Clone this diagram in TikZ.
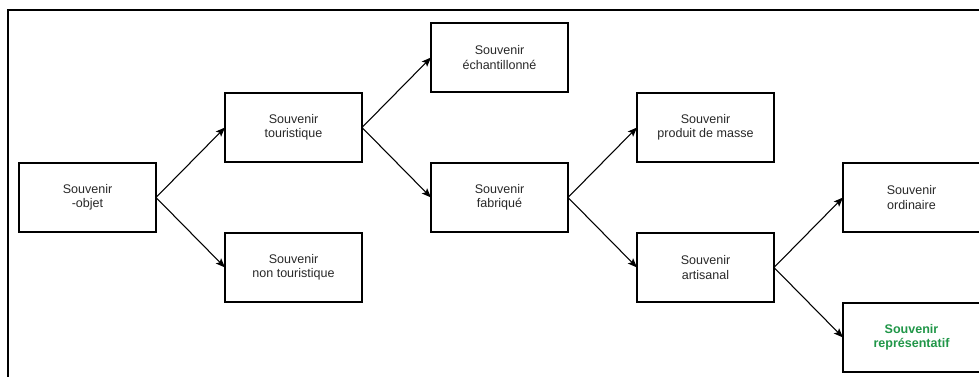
\documentclass[tikz,border=0pt]{standalone}
\usepackage{fontspec}
\setmainfont{Liberation Sans}
\usepackage{tikz}
\usetikzlibrary{arrows.meta,positioning}
\definecolor{souvgreen}{RGB}{32,150,72}
\definecolor{souvtext}{RGB}{40,40,40}
\tikzset{
    %Define standard arrow tip
    >={Stealth[length=7pt,width=5.5pt,inset=1.5pt]},
    %Define style for boxes
    boite/.style={
           rectangle,
           draw=black, line width=0.8pt,
           text=souvtext,
           font=\fontsize{9.4pt}{10.8pt}\selectfont,
           align=center,
           minimum width=102.75pt,
           minimum height=51.75pt,
           inner sep=0pt, outer sep=0pt},
    % Define arrow style
    fleche/.style={
           ->,
           line width=0.8pt,}
}
\begin{document}
\begin{tikzpicture}[node distance=0.75pt and 51.75pt]

 \useasboundingbox (-65.625pt,-134.625pt) rectangle (668.625pt,148.125pt);
 % frame
 \draw[line width=1.3pt] (-59.625pt,-140pt) -- (-59.625pt,140.625pt) -- (680pt,140.625pt);

 \node[boite] (objet) {Souvenir\\-objet};
 \node[boite, above right=of objet] (tour) {Souvenir\\touristique};
 \node[boite, below right=of objet] (nontour) {Souvenir\\non touristique};
 \node[boite, above right=of tour] (echant) {Souvenir\\échantillonné};
 \node[boite, below right=of tour] (fabr) {Souvenir\\fabriqué};
 \node[boite, above right=of fabr] (masse) {Souvenir\\produit de masse};
 \node[boite, below right=of fabr] (artis) {Souvenir\\artisanal};
 \node[boite, above right=of artis] (ordin) {Souvenir\\ordinaire};
 \node[boite, below right=of artis, text=souvgreen, font=\fontsize{9.4pt}{10.8pt}\selectfont\bfseries] (repres) {Souvenir\\représentatif};

 \draw[fleche] (objet.east) -- (tour.west);
 \draw[fleche] (objet.east) -- (nontour.west);
 \draw[fleche] (tour.east) -- (echant.west);
 \draw[fleche] (tour.east) -- (fabr.west);
 \draw[fleche] (fabr.east) -- (masse.west);
 \draw[fleche] (fabr.east) -- (artis.west);
 \draw[fleche] (artis.east) -- (ordin.west);
 \draw[fleche] (artis.east) -- (repres.west);
\end{tikzpicture}
\end{document}
